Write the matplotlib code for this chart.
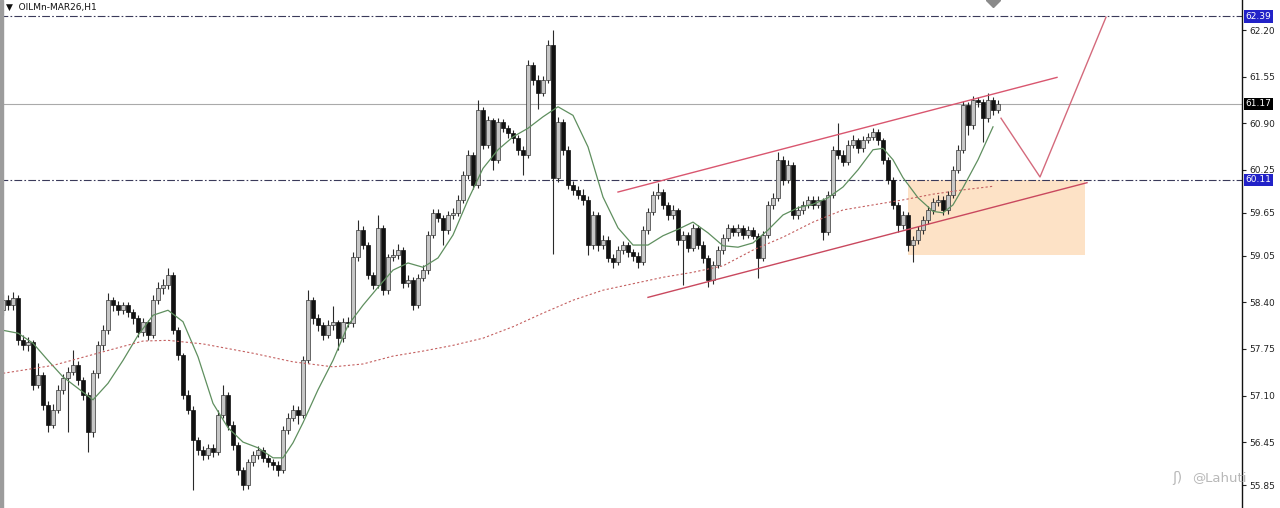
import numpy as np
import matplotlib.pyplot as plt
from matplotlib.patches import Rectangle

# H1 bars, oldest first
opens = [
    58.29, 58.43, 58.36, 58.46, 57.87, 57.80, 57.85, 57.25, 57.39, 56.97,
    56.69, 56.90, 57.18, 57.34, 57.43, 57.52, 57.32, 57.11, 56.59, 57.41,
    57.80, 58.01, 58.43, 58.36, 58.29, 58.36, 58.26, 58.18, 57.98, 58.12,
    57.94, 58.43, 58.60, 58.64, 58.78, 58.01, 57.66, 57.11, 56.90, 56.48,
    56.34, 56.27, 56.37, 56.31, 56.83, 57.11, 56.69, 56.41, 56.06, 55.85,
    56.17, 56.27, 56.34, 56.23, 56.17, 56.13, 56.06, 56.62, 56.79, 56.90,
    56.83, 57.59, 58.43, 58.18, 58.08, 57.94, 58.08, 58.12, 57.90, 58.12,
    58.11, 59.03, 59.41, 59.20, 58.78, 58.64, 59.44, 58.57, 59.03, 59.06,
    59.13, 58.67, 58.71, 58.36, 58.74, 58.85, 59.34, 59.65, 59.58, 59.41,
    59.62, 59.65, 59.83, 60.18, 60.46, 60.04, 61.08, 60.60, 60.94, 60.39,
    60.92, 60.83, 60.76, 60.69, 60.53, 60.46, 61.71, 61.50, 61.32, 61.50,
    61.99, 60.13, 60.92, 60.53, 60.04, 59.97, 59.90, 59.83, 59.20, 59.62,
    59.20, 59.27, 59.02, 58.96, 59.13, 59.20, 59.10, 59.05, 58.96, 59.41,
    59.66, 59.90, 59.94, 59.76, 59.62, 59.69, 59.27, 59.34, 59.16, 59.44,
    59.20, 59.02, 58.71, 58.92, 59.13, 59.30, 59.44, 59.38, 59.44, 59.34,
    59.41, 59.33, 59.02, 59.34, 59.76, 59.86, 60.39, 60.11, 60.32, 59.62,
    59.69, 59.76, 59.83, 59.76, 59.83, 59.38, 59.90, 60.53, 60.46, 60.36,
    60.60, 60.67, 60.55, 60.67, 60.71, 60.78, 60.67, 60.39, 60.11, 59.76,
    59.48, 59.62, 59.20, 59.27, 59.41, 59.55, 59.69, 59.80, 59.83, 59.69,
    59.90, 60.25, 60.53, 61.15, 60.87, 61.22, 61.20, 60.97, 61.22, 61.08,
]
highs = [
    58.52, 58.50, 58.54, 58.50, 57.95, 57.92, 57.88, 57.56, 57.43, 57.02,
    56.98, 57.24, 57.40, 57.50, 57.73, 57.58, 57.36, 57.15, 57.46, 57.86,
    58.08, 58.53, 58.48, 58.42, 58.41, 58.40, 58.31, 58.22, 58.18, 58.16,
    58.50, 58.68, 58.72, 58.88, 58.82, 58.05, 57.70, 57.18, 56.95, 56.52,
    56.40, 56.43, 56.42, 56.90, 57.25, 57.15, 56.74, 56.45, 56.10, 56.22,
    56.33, 56.40, 56.38, 56.28, 56.22, 56.18, 56.68, 56.85, 56.97, 56.96,
    57.65, 58.57, 58.48, 58.24, 58.12, 58.15, 58.35, 58.16, 58.18, 58.20,
    59.10, 59.55, 59.46, 59.24, 58.82, 59.62, 59.48, 59.08, 59.14, 59.22,
    59.17, 58.78, 58.75, 58.80, 58.92, 59.40, 59.71, 59.70, 59.62, 59.68,
    59.72, 59.90, 60.24, 60.53, 60.50, 61.22, 61.12, 61.00, 60.98, 60.98,
    60.96, 60.88, 60.80, 60.73, 60.58, 61.78, 61.75, 61.58, 61.56, 62.06,
    62.20, 60.99, 60.96, 60.58, 60.10, 60.02, 59.98, 59.88, 59.68, 59.66,
    59.34, 59.32, 59.08, 59.18, 59.26, 59.24, 59.14, 59.10, 59.46, 59.72,
    59.96, 60.06, 59.98, 59.80, 59.76, 59.72, 59.40, 59.38, 59.50, 59.48,
    59.25, 59.06, 58.98, 59.18, 59.36, 59.50, 59.48, 59.50, 59.48, 59.47,
    59.45, 59.37, 59.40, 59.82, 59.92, 60.50, 60.44, 60.38, 60.36, 59.75,
    59.82, 59.89, 59.88, 59.88, 59.86, 59.96, 60.58, 60.90, 60.52, 60.66,
    60.73, 60.70, 60.72, 60.77, 60.83, 60.82, 60.70, 60.43, 60.15, 59.80,
    59.68, 59.66, 59.33, 59.46, 59.60, 59.74, 59.86, 59.90, 59.88, 59.96,
    60.31, 60.59, 61.21, 61.20, 61.28, 61.27, 61.24, 61.32, 61.26, 61.22,
]
lows = [
    58.22, 58.30, 58.30, 57.80, 57.74, 57.72, 57.18, 57.20, 56.90, 56.59,
    56.64, 56.85, 57.12, 56.59, 57.38, 57.25, 57.04, 56.31, 56.52, 57.35,
    57.74, 57.96, 58.28, 58.22, 58.24, 58.20, 58.10, 57.92, 57.93, 57.87,
    57.90, 58.38, 58.52, 58.58, 57.96, 57.60, 57.05, 56.84, 55.78, 56.27,
    56.20, 56.22, 56.24, 56.27, 56.78, 56.62, 56.34, 55.99, 55.78, 55.80,
    56.12, 56.22, 56.17, 56.10, 56.06, 55.98, 56.02, 56.56, 56.74, 56.70,
    56.78, 57.55, 58.10, 58.00, 57.88, 57.90, 58.02, 57.73, 57.85, 58.05,
    58.06, 58.98, 59.14, 58.72, 58.58, 58.60, 58.50, 58.52, 58.98, 59.00,
    58.60, 58.62, 58.29, 58.32, 58.70, 58.80, 59.30, 59.52, 59.20, 59.36,
    59.56, 59.60, 59.78, 60.12, 59.98, 60.00, 60.54, 60.56, 60.25, 60.34,
    60.78, 60.70, 60.63, 60.46, 60.18, 60.42, 61.44, 61.10, 61.28, 61.46,
    59.08, 60.08, 60.46, 59.98, 59.90, 59.84, 59.76, 59.06, 59.14, 59.12,
    59.14, 58.96, 58.88, 58.92, 59.08, 59.04, 58.98, 58.88, 58.92, 59.36,
    59.62, 59.84, 59.70, 59.55, 59.56, 59.20, 58.64, 59.10, 59.12, 59.14,
    58.95, 58.62, 58.66, 58.88, 59.08, 59.26, 59.32, 59.33, 59.28, 59.30,
    59.28, 58.74, 58.98, 59.30, 59.70, 59.82, 60.04, 60.06, 59.56, 59.57,
    59.64, 59.72, 59.70, 59.72, 59.27, 59.34, 59.86, 60.40, 60.30, 60.32,
    60.55, 60.49, 60.50, 60.62, 60.66, 60.60, 60.33, 60.05, 59.70, 59.38,
    59.42, 59.12, 58.96, 59.22, 59.36, 59.50, 59.64, 59.74, 59.62, 59.64,
    59.86, 60.20, 60.48, 60.74, 60.82, 61.12, 60.64, 60.92, 61.02, 61.04,
]
closes = [
    58.43, 58.36, 58.46, 57.87, 57.80, 57.85, 57.25, 57.39, 56.97, 56.69,
    56.90, 57.18, 57.34, 57.43, 57.52, 57.32, 57.11, 56.59, 57.41, 57.80,
    58.01, 58.43, 58.36, 58.29, 58.36, 58.26, 58.18, 57.98, 58.12, 57.94,
    58.43, 58.60, 58.64, 58.78, 58.01, 57.66, 57.11, 56.90, 56.48, 56.34,
    56.27, 56.37, 56.31, 56.83, 57.11, 56.69, 56.41, 56.06, 55.85, 56.17,
    56.27, 56.34, 56.23, 56.17, 56.13, 56.06, 56.62, 56.79, 56.90, 56.83,
    57.59, 58.43, 58.18, 58.08, 57.94, 58.08, 58.12, 57.90, 58.12, 58.11,
    59.03, 59.41, 59.20, 58.78, 58.64, 59.44, 58.57, 59.03, 59.06, 59.13,
    58.67, 58.71, 58.36, 58.74, 58.85, 59.34, 59.65, 59.58, 59.41, 59.62,
    59.65, 59.83, 60.18, 60.46, 60.04, 61.08, 60.60, 60.94, 60.39, 60.92,
    60.83, 60.76, 60.69, 60.53, 60.46, 61.71, 61.50, 61.32, 61.50, 61.99,
    60.13, 60.92, 60.53, 60.04, 59.97, 59.90, 59.83, 59.20, 59.62, 59.20,
    59.27, 59.02, 58.96, 59.13, 59.20, 59.10, 59.05, 58.96, 59.41, 59.66,
    59.90, 59.94, 59.76, 59.62, 59.69, 59.27, 59.34, 59.16, 59.44, 59.20,
    59.02, 58.71, 58.92, 59.13, 59.30, 59.44, 59.38, 59.44, 59.34, 59.41,
    59.33, 59.02, 59.34, 59.76, 59.86, 60.39, 60.11, 60.32, 59.62, 59.69,
    59.76, 59.83, 59.76, 59.83, 59.38, 59.90, 60.53, 60.46, 60.36, 60.60,
    60.67, 60.55, 60.67, 60.71, 60.78, 60.67, 60.39, 60.11, 59.76, 59.48,
    59.62, 59.20, 59.27, 59.41, 59.55, 59.69, 59.80, 59.83, 59.69, 59.90,
    60.25, 60.53, 61.15, 60.87, 61.22, 61.20, 60.97, 61.22, 61.08, 61.17,
]

# moving averages, every few bars
fast_ma_bar = [0, 3, 6, 9, 12, 15, 18, 21, 24, 27, 30, 33, 36, 39, 42, 45, 48, 51, 54, 56,
               58, 60, 63, 66, 69, 72, 75, 78, 81, 84, 87, 90, 93, 96, 99, 102, 105, 108, 111, 114,
               117, 120, 123, 126, 129, 132, 135, 138, 141, 144, 147, 150, 153, 156, 159, 162, 165, 168, 171, 174,
               176, 178, 180, 183, 186, 188, 190, 192, 195, 198]
fast_ma = [58.01, 57.97, 57.83, 57.59, 57.36, 57.20, 57.04, 57.27, 57.59, 57.94, 58.22, 58.29, 58.13, 57.64, 56.99, 56.65, 56.45, 56.37, 56.23, 56.23,
           56.44, 56.72, 57.18, 57.59, 58.08, 58.36, 58.61, 58.85, 58.95, 58.89, 59.02, 59.34, 59.83, 60.27, 60.53, 60.71, 60.83, 60.99, 61.13, 61.01,
           60.57, 59.87, 59.44, 59.20, 59.20, 59.33, 59.42, 59.52, 59.37, 59.19, 59.17, 59.23, 59.41, 59.62, 59.72, 59.77, 59.86, 60.01, 60.25, 60.53,
           60.55, 60.39, 60.14, 59.86, 59.67, 59.65, 59.76, 60.00, 60.39, 60.85]
slow_ma_bar = [0, 10, 20, 28, 33, 40, 50, 58, 66, 72, 78, 84, 90, 96, 102, 108, 114, 120, 126, 132,
               138, 144, 150, 156, 162, 168, 174, 180, 186, 192, 198]
slow_ma = [57.41, 57.52, 57.71, 57.86, 57.87, 57.82, 57.69, 57.57, 57.50, 57.54, 57.65, 57.72, 57.80, 57.90, 58.06, 58.25, 58.43, 58.57, 58.66, 58.75,
           58.82, 58.91, 59.13, 59.31, 59.52, 59.69, 59.76, 59.83, 59.91, 59.97, 60.02]

y_ticks = [62.20, 61.55, 60.90, 60.25, 59.65, 59.05, 58.40, 57.75, 57.10, 56.45, 55.85]
target_level = 62.39
bid_level = 61.17
support_level = 60.11

# drawn objects
channel_upper_bar = [123.0, 210.8]
channel_upper = [59.94, 61.54]
channel_lower_bar = [129.0, 216.8]
channel_lower = [58.47, 60.07]
path_bar = [199.6, 207.4, 220.6]
path_price = [60.97, 60.15, 62.38]
zone_bar = [181.0, 216.4]
zone_price = [59.06, 60.11]

fig = plt.figure(figsize=(12.8, 5.08), dpi=100)
ax = fig.add_axes([0, 0, 1242 / 1280, 1])
ax.set_xlim(-0.6, 247.8)
ax.set_ylim(55.53, 62.62)

# buy zone
ax.add_patch(Rectangle((zone_bar[0], zone_price[0]), zone_bar[1] - zone_bar[0],
                       zone_price[1] - zone_price[0], facecolor='#fde2c6', edgecolor='none', zorder=1))

dashdot = (0, (7, 2, 1.5, 2))
ax.axhline(target_level, color='#3a3a5a', lw=0.8, ls=dashdot, zorder=2)
ax.axhline(bid_level, color='#aaaaaa', lw=0.8, zorder=2)
ax.axhline(support_level, color='#3a3a5a', lw=0.8, ls=dashdot, zorder=2)

# candles
x = np.arange(len(closes))
o = np.array(opens)
c = np.array(closes)
up = c >= o
ax.vlines(x, lows, highs, color='#2a2a2a', lw=0.8, zorder=3)
ax.bar(x[up], np.maximum(c - o, 0.01)[up], bottom=o[up], width=0.62,
       color='#c6c6c6', edgecolor='#333333', linewidth=0.5, zorder=4)
ax.bar(x[~up], (o - c)[~up], bottom=c[~up], width=0.62,
       color='#111111', edgecolor='#111111', linewidth=0.5, zorder=4)

ax.plot(fast_ma_bar, fast_ma, color='#5f8f5f', lw=0.9, zorder=5)
ax.plot(slow_ma_bar, slow_ma, color='#c46060', lw=0.8, ls=(0, (2, 2)), zorder=5)

# channel and projected path
ax.plot(channel_upper_bar, channel_upper, color='#d9566f', lw=1.0, zorder=6)
ax.plot(channel_lower_bar, channel_lower, color='#c9485e', lw=1.0, zorder=6)
ax.plot(path_bar, path_price, color='#d46a7c', lw=1.0, zorder=6)

# right price scale
ax.yaxis.tick_right()
ax.set_yticks(y_ticks)
ax.set_yticklabels([f'{v:.2f}' for v in y_ticks])
ax.tick_params(axis='y', length=3, width=0.8, pad=2, labelsize=6.5, colors='#222222')
ax.set_xticks([])
for side in ['top', 'left', 'bottom']:
    ax.spines[side].set_visible(False)
ax.spines['right'].set_color('#111111')
ax.spines['right'].set_linewidth(1.0)

for level, bg in [(target_level, '#2222c8'), (bid_level, '#000000'), (support_level, '#2222c8')]:
    ax.text(1.003, level, f'{level:.2f}', transform=ax.get_yaxis_transform(), ha='left', va='center',
            fontsize=6.5, color='white', clip_on=False,
            bbox=dict(boxstyle='square,pad=0.18', facecolor=bg, edgecolor='none'))

# current bar marker at the top
ax.plot([x[-2]], [62.62], marker='D', ms=7, color='#8a8a8a', clip_on=False, zorder=7)

fig.add_artist(Rectangle((0, 0), 3 / 1280, 1, transform=fig.transFigure, color='#9c9c9c'))
fig.text(6 / 1280, 1 - 7 / 508, '\u25bc  OILMn-MAR26,H1', fontsize=6.5, va='center', color='#111111')
fig.text(1172 / 1280, 1 - 478 / 508, '\u0283)', fontsize=10, va='center', color='#b8b8b8')
fig.text(1192 / 1280, 1 - 478 / 508, '@Lahuti', fontsize=9.5, va='center', color='#b8b8b8')

fig.savefig('out.png', dpi=100, facecolor='white')
